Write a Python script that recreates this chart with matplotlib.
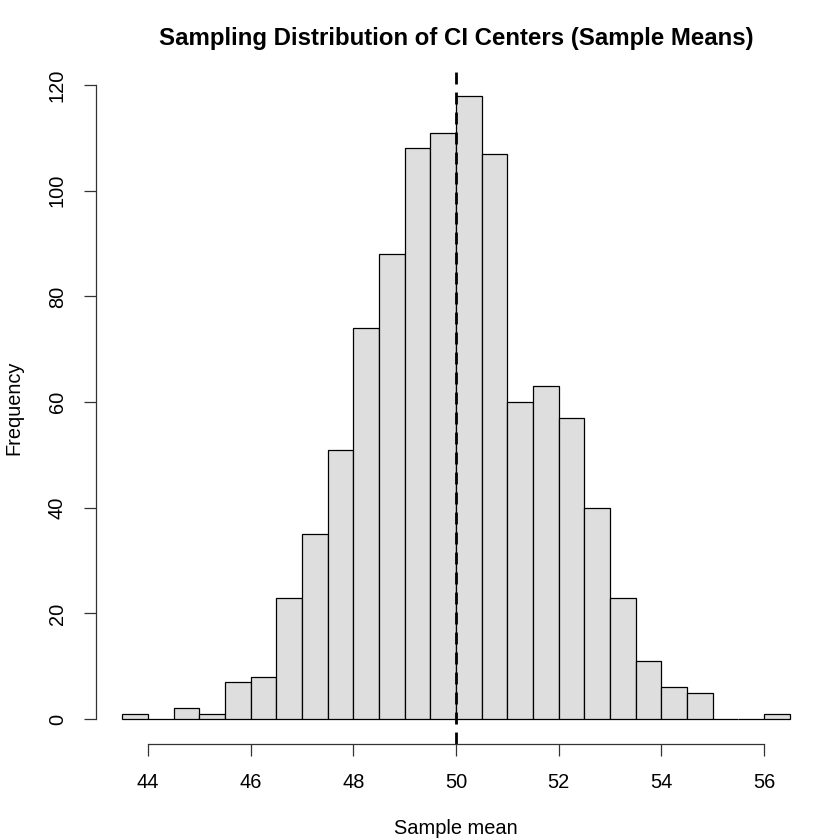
import matplotlib
matplotlib.use('Agg')
import matplotlib.pyplot as plt
import numpy as np

# histogram of 1000 sample means, bin width 0.5
bin_edges = np.arange(43.5, 56.51, 0.5)
counts = [1, 0, 2, 1, 7, 8, 23, 35, 51, 74, 88, 108, 111,
          118, 107, 60, 63, 57, 40, 23, 11, 6, 5, 0, 0, 1]
true_mean = 50
x_ticks = [44, 46, 48, 50, 52, 54, 56]
y_ticks = [0, 20, 40, 60, 80, 100, 120]

plt.rcParams['font.family'] = ['Liberation Sans', 'DejaVu Sans']

fig = plt.figure(figsize=(8.4, 8.4), dpi=100)
ax = fig.add_axes([95.6 / 840, 96 / 840, 720.7 / 840, 673.3 / 840])

widths = np.diff(bin_edges)
ax.bar(bin_edges[:-1], counts, width=widths, align='edge',
       color='#DEDEDE', edgecolor='black', linewidth=0.9)

# R-style 4% range extension
xr = bin_edges[-1] - bin_edges[0]
ax.set_xlim(bin_edges[0] - 0.04 * xr, bin_edges[-1] + 0.04 * xr)
ymax = max(counts)
ax.set_ylim(-0.04 * ymax, ymax * 1.04)

ax.axvline(true_mean, color='black', linewidth=2, dashes=(4.3, 2.9))

for side in ['top', 'right']:
    ax.spines[side].set_visible(False)
ax.spines['bottom'].set_bounds(x_ticks[0], x_ticks[-1])
ax.spines['left'].set_bounds(y_ticks[0], y_ticks[-1])
for side in ['bottom', 'left']:
    ax.spines[side].set_linewidth(0.9)
    ax.spines[side].set_color('#333333')

ax.set_xticks(x_ticks)
ax.set_yticks(y_ticks)
ax.tick_params(axis='both', length=8.6, width=0.9, color='#333333',
               labelsize=14.4, pad=12)
ax.set_yticklabels([str(v) for v in y_ticks], rotation=90, va='center')

fig.text((95.6 + 816.3) / 2 / 840, 1 - 38 / 840,
         'Sampling Distribution of CI Centers (Sample Means)',
         ha='center', va='center', fontsize=17.3, fontweight='bold')
fig.text((95.6 + 816.3) / 2 / 840, 1 - 828 / 840, 'Sample mean',
         ha='center', va='center', fontsize=14.4)
fig.text(14 / 840, 1 - (70.7 + 744) / 2 / 840, 'Frequency',
         ha='center', va='center', rotation=90, fontsize=14.4)

plt.savefig('out.png', dpi=100)
plt.close()
